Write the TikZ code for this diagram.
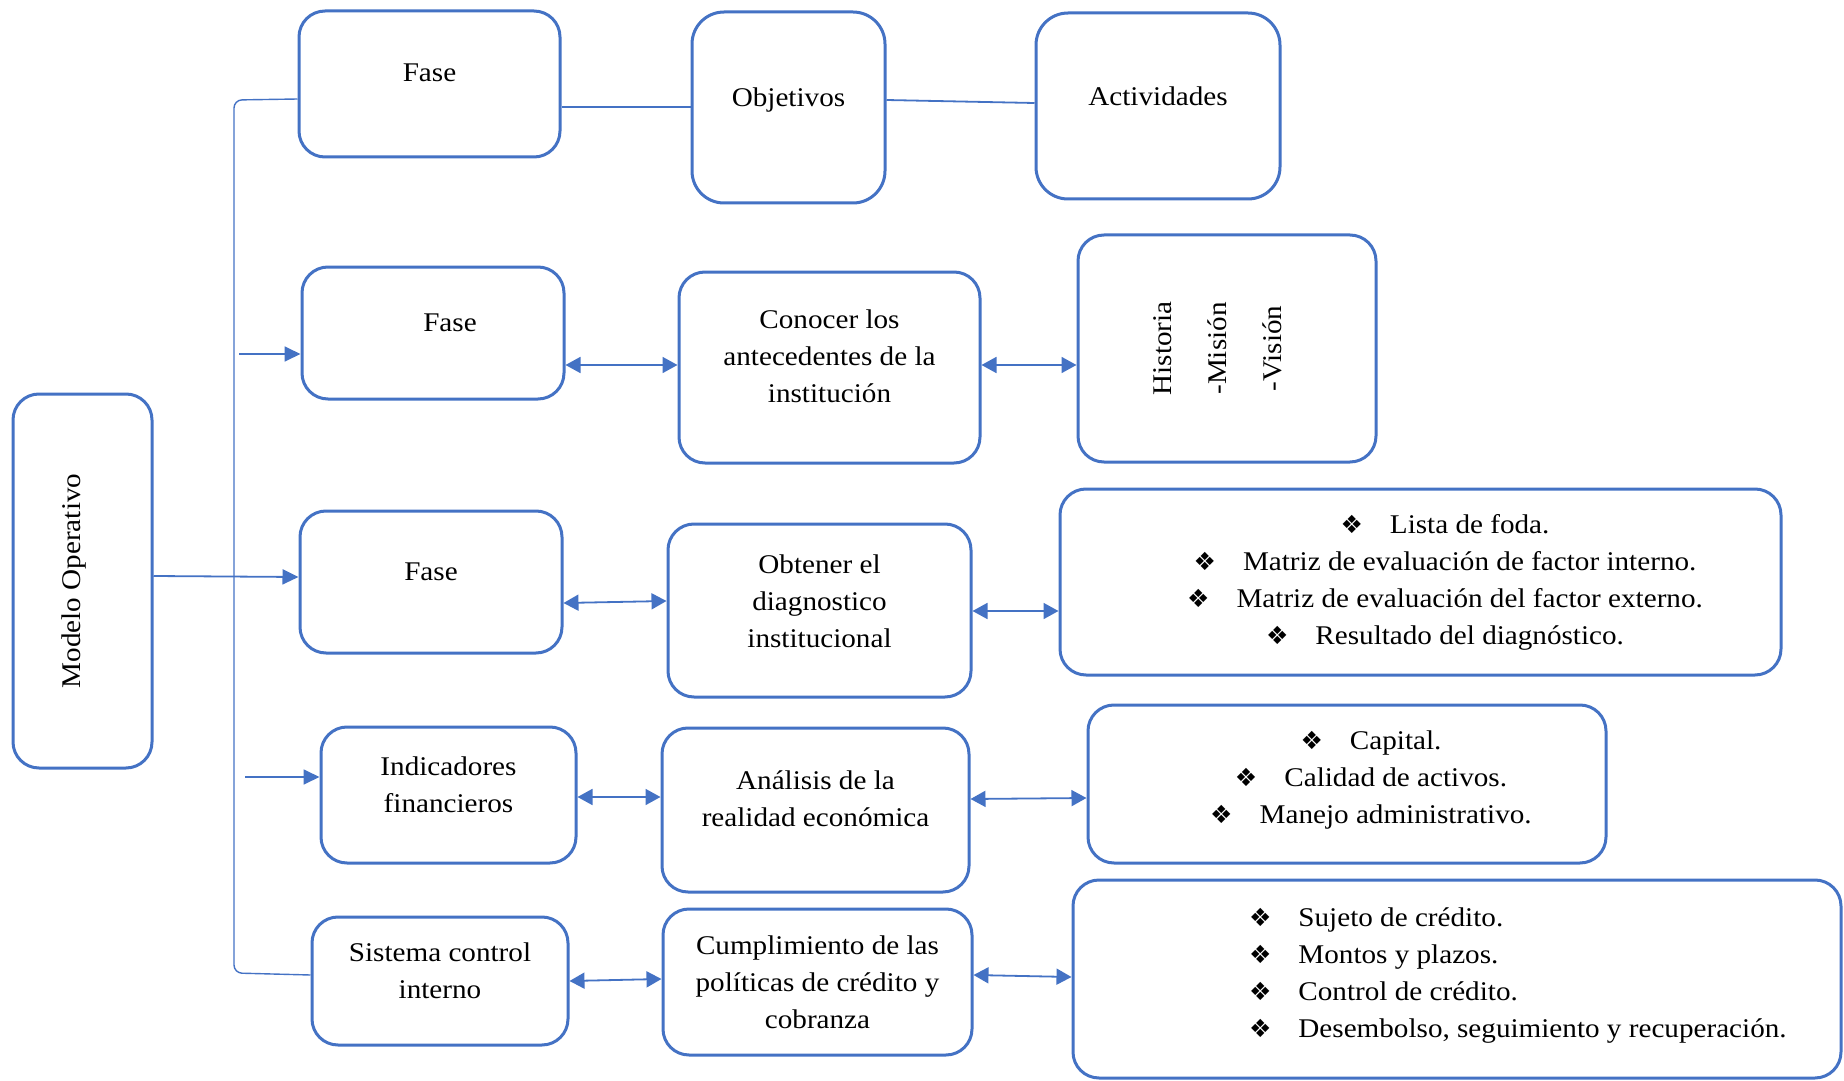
\documentclass[tikz,border=0pt]{standalone}
\usepackage{fontspec}
\setmainfont{Liberation Serif}[FakeStretch=1.08]
\newfontfamily\dingfont{DejaVu Sans}
\usetikzlibrary{arrows.meta}
\definecolor{ofblue}{HTML}{4472C4}
\newcommand{\dingbul}{{\dingfont\fontsize{12.5}{12.5}\selectfont ❖}\hspace{13.5pt}}

\begin{document}
\begin{tikzpicture}[x=0.5pt, y=-0.5pt,
    caja/.style={draw=ofblue, line width=1.5pt, rounded corners=13pt, align=center,
      inner sep=0pt, font=\fontsize{13.5}{18.5}\selectfont},
    lift/.style={text depth=#1},
    conn/.style={draw=ofblue, line width=0.9pt},
    fwd/.style={conn, -{Triangle[length=8pt, width=7.5pt]}},
    biconn/.style={conn, {Triangle[length=7.5pt, width=8pt]}-{Triangle[length=7.5pt, width=8pt]}}]
  \useasboundingbox (0,0) rectangle (1844,1081);
  \clip (0,0) rectangle (1844,1081);

  \node[caja, rotate=90, minimum width=187pt, minimum height=69.5pt, lift=11.8pt] (modelo) at (82.5,581) {Modelo Operativo};

  % encabezados
  \node[caja, minimum width=130.5pt, minimum height=73pt, lift=11pt] (fase) at (429.5,84) {Fase};
  \node[caja, rounded corners=16pt, minimum width=96.5pt, minimum height=95.5pt, lift=10.5pt] (obj) at (788.5,107.5) {Objetivos};
  \node[caja, rounded corners=16pt, minimum width=122pt, minimum height=93pt, lift=10pt] (act) at (1158,106) {Actividades};

  % primera fase
  \node[caja, minimum width=131pt, minimum height=66pt, lift=10.5pt] (faseA) at (433,333) {\hspace*{17pt}Fase};
  \node[caja, minimum width=150.5pt, minimum height=95.5pt, lift=11.8pt] (conocer) at (829.5,367.5) {Conocer los\\antecedentes de la\\institución};
  \node[caja, rotate=90, minimum width=113.5pt, minimum height=149pt, lift=9.3pt,
    font=\fontsize{13.5}{27.5}\selectfont] (hist) at (1227,348.5) {Historia\\-Misión\\-Visión};

  % segunda fase
  \node[caja, minimum width=131pt, minimum height=71pt, lift=10.5pt] (faseB) at (431,582) {Fase};
  \node[caja, minimum width=151.5pt, minimum height=86.5pt, lift=9.8pt] (obtener) at (819.5,610.5) {Obtener el\\diagnostico\\institucional};
  \node[caja, minimum width=360.5pt, minimum height=93pt] (foda) at (1420.5,582)
    {\hspace*{24.5pt}\begin{tabular}{@{}c@{}}
      \dingbul Lista de foda.\\
      \dingbul Matriz de evaluación de factor interno.\\
      \dingbul Matriz de evaluación del factor externo.\\
      \dingbul Resultado del diagnóstico.
    \end{tabular}};

  % indicadores
  \node[caja, minimum width=127.5pt, minimum height=68pt, lift=10.3pt] (indic) at (448.5,795) {Indicadores\\financieros};
  \node[caja, minimum width=153.5pt, minimum height=82pt, lift=11.5pt] (analisis) at (815.5,810) {Análisis de la\\realidad económica};
  \node[caja, minimum width=259pt, minimum height=79pt, lift=29.4pt] (camel) at (1347,784)
    {\hspace*{24pt}\begin{tabular}{@{}c@{}}
      \dingbul Capital.\\
      \dingbul Calidad de activos.\\
      \dingbul Manejo administrativo.
    \end{tabular}};

  % control interno
  \node[caja, minimum width=128pt, minimum height=64pt, lift=10.3pt] (sistema) at (440,981) {Sistema control\\interno};
  \node[caja, minimum width=154.5pt, minimum height=73pt] (cumpl) at (817.5,982) {Cumplimiento de las\\políticas de crédito y\\cobranza};
  \node[caja, minimum width=384pt, minimum height=99pt, lift=37.6pt] (credito) at (1457,979)
    {\hspace*{72pt}\begin{tabular}{@{}p{280pt}@{}}
      \dingbul Sujeto de crédito.\\
      \dingbul Montos y plazos.\\
      \dingbul Control de crédito.\\
      \dingbul Desembolso, seguimiento y recuperación.
    \end{tabular}};

  % llave
  \coordinate (llT) at (234,100);
  \coordinate (llB) at (234,973);
  \draw[conn, line width=0.7pt, rounded corners=4pt] (fase.west |- 0,99) -- (llT) -- (llB) -- (sistema.west |- 0,975);
  \coordinate (inA) at (239,354);
  \coordinate (inC) at (245,777);
  \draw[fwd] (inA) -- (faseA.west |- inA);
  \draw[fwd] (modelo.south |- 0,576) -- (faseB.west |- 0,577);
  \draw[fwd] (inC) -- (indic.west |- inC);

  \draw[conn] (fase.east |- 0,107) -- (obj.west |- 0,107);
  \draw[conn] (obj.east |- 0,100) -- (act.west |- 0,103);

  \draw[biconn] (faseA.east |- 0,365) -- (conocer.west |- 0,365);
  \draw[biconn] (conocer.east |- 0,365) -- (hist.north |- 0,365);
  \draw[biconn] (faseB.east |- 0,603) -- (obtener.west |- 0,601);
  \draw[biconn] (obtener.east |- 0,611) -- (foda.west |- 0,611);
  \draw[biconn] (indic.east |- 0,797) -- (analisis.west |- 0,797);
  \draw[biconn] (analisis.east |- 0,799) -- (camel.west |- 0,798);
  \draw[biconn] (sistema.east |- 0,981) -- (cumpl.west |- 0,979);
  \draw[biconn] (cumpl.east |- 0,975) -- (credito.west |- 0,977);
\end{tikzpicture}
\end{document}
